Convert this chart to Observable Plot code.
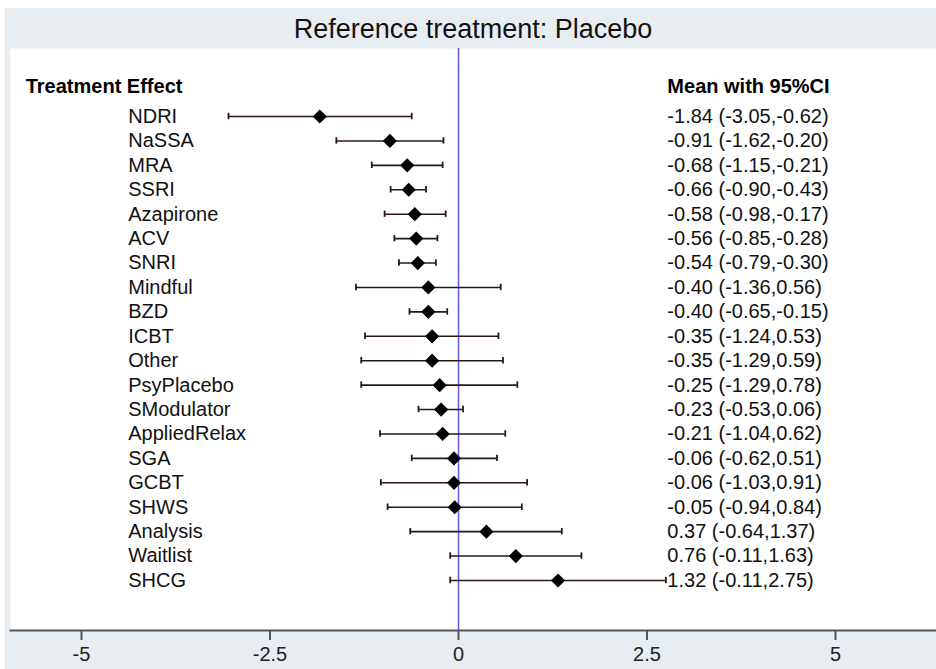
<!DOCTYPE html>
<html>
<head>
<meta charset="utf-8">
<script src="https://cdn.jsdelivr.net/npm/d3@7"></script>
<script src="https://cdn.jsdelivr.net/npm/@observablehq/plot@0.6"></script>
<style>
  body { margin: 0; background: #fff; font-family: "Liberation Sans", Arial, sans-serif; }
  #wrap { position: relative; width: 936px; height: 669px; overflow: hidden; background: #fff; }
  #bg { position: absolute; left: 5px; top: 8px; right: 0; bottom: 0; background: #e8edf2; }
  #title { position: absolute; left: 10px; top: 9px; width: 926px; height: 40px; line-height: 40px;
           text-align: center; font-size: 27px; color: #111; }
  #chart { position: absolute; left: 0; top: 48px; }
</style>
</head>
<body>
<div id="wrap">
  <div id="bg"></div>
  <div id="title">Reference treatment: Placebo</div>
  <div id="chart"></div>
</div>
<script>
const treatments = ["NDRI","NaSSA","MRA","SSRI","Azapirone","ACV","SNRI","Mindful","BZD","ICBT",
  "Other","PsyPlacebo","SModulator","AppliedRelax","SGA","GCBT","SHWS","Analysis","Waitlist","SHCG"];
const means = [-1.84,-0.91,-0.68,-0.66,-0.58,-0.56,-0.54,-0.40,-0.40,-0.35,
  -0.35,-0.25,-0.23,-0.21,-0.06,-0.06,-0.05,0.37,0.76,1.32];
const lower = [-3.05,-1.62,-1.15,-0.90,-0.98,-0.85,-0.79,-1.36,-0.65,-1.24,
  -1.29,-1.29,-0.53,-1.04,-0.62,-1.03,-0.94,-0.64,-0.11,-0.11];
const upper = [-0.62,-0.20,-0.21,-0.43,-0.17,-0.28,-0.30,0.56,-0.15,0.53,
  0.59,0.78,0.06,0.62,0.51,0.91,0.84,1.37,1.63,2.75];
const xTicks = [-5, -2.5, 0, 2.5, 5];
const leftHeader = "Treatment Effect";
const rightHeader = "Mean with 95%CI";

// layout constants (in x data units)
const LABEL_X = -4.38;
const VALUE_X = 2.77;
const HEADER_X = -5.74;

const fmt = v => v.toFixed(2);
const data = treatments.map((t, i) => ({
  t, mean: means[i], lo: lower[i], hi: upper[i],
  label: `${fmt(means[i])} (${fmt(lower[i])},${fmt(upper[i])})`
}));

const lineColor = "#2a1818";
const font = "Liberation Sans, Arial, sans-serif";

const plot = Plot.plot({
  width: 936,
  height: 621,
  marginLeft: 10, marginRight: 0, marginTop: 0, marginBottom: 39,
  style: { background: "transparent", fontFamily: font, color: "#111", overflow: "visible" },
  x: { domain: [-5, 5], range: [81, 835], axis: null },
  y: { domain: treatments, range: [55.8, 544.2], padding: 0, round: false, axis: null },
  marks: [
    Plot.frame({ fill: "white", stroke: null }),
    Plot.ruleX([0], { stroke: "#5c5cf2", strokeWidth: 1.5 }),
    Plot.ruleY(data, { y: "t", x1: "lo", x2: "hi", stroke: lineColor, strokeWidth: 1.6 }),
    Plot.tickX(data, { x: "lo", y: "t", insetTop: 9, insetBottom: 9, stroke: lineColor, strokeWidth: 1.8 }),
    Plot.tickX(data, { x: "hi", y: "t", insetTop: 9, insetBottom: 9, stroke: lineColor, strokeWidth: 1.8 }),
    Plot.dot(data, { x: "mean", y: "t", symbol: "diamond2", r: 6.4, fill: "black", stroke: null }),
    Plot.text(data, { x: () => LABEL_X, y: "t", text: "t", textAnchor: "start", fontSize: 20, fill: "#111" }),
    Plot.text(data, { x: () => VALUE_X, y: "t", text: "label", textAnchor: "start", fontSize: 20, fill: "#111" }),
    Plot.text([leftHeader], { x: () => HEADER_X, frameAnchor: "top", lineAnchor: "middle", dy: 38, text: d => d,
      textAnchor: "start", fontSize: 20, fontWeight: "bold", fill: "#000" }),
    Plot.text([rightHeader], { x: () => VALUE_X, frameAnchor: "top", lineAnchor: "middle", dy: 38, text: d => d,
      textAnchor: "start", fontSize: 20, fontWeight: "bold", fill: "#000" }),
    Plot.frame({ anchor: "bottom", stroke: "#555", strokeWidth: 2 }),
    Plot.axisX(xTicks, { tickSize: 10, tickPadding: 6, fontSize: 20, stroke: "#555", strokeWidth: 2,
      fill: "#222", tickFormat: d => String(d), label: null })
  ]
});
document.getElementById("chart").appendChild(plot);
</script>
</body>
</html>
